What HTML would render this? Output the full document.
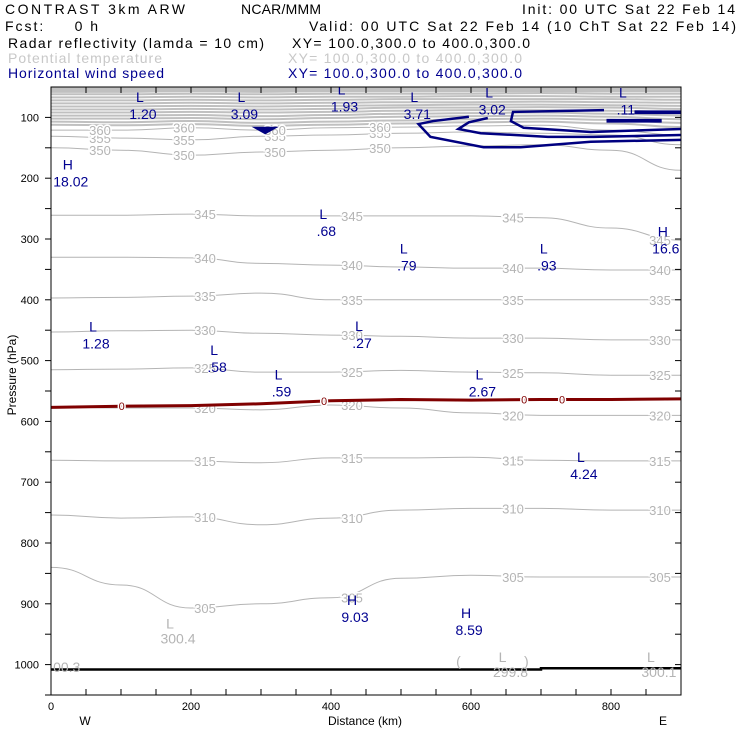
<!DOCTYPE html>
<html><head><meta charset="utf-8"><style>
html,body{margin:0;padding:0;background:#fff}
svg{display:block;font-family:"Liberation Sans",sans-serif}
.hd{font-size:14px;fill:#000}
.tk{font-size:11px;fill:#000}
.cl{font-size:13px;fill:#b4b4b4;stroke:#fff;stroke-width:3px;paint-order:stroke}
.bl{font-size:14px;fill:#000090}
.gl{font-size:14px;fill:#b4b4b4}
</style></head><body>
<svg id="chart" width="740" height="740" viewBox="0 0 740 740">
<g>
<text class="hd" x="5" y="14" textLength="180">CONTRAST  3km ARW</text>
<text class="hd" x="241" y="14" textLength="80">NCAR/MMM</text>
<text class="hd" x="522" y="14" textLength="213">Init: 00 UTC Sat 22 Feb 14</text>
<text class="hd" x="5" y="31" textLength="93" xml:space="preserve">Fcst:     0 h</text>
<text class="hd" x="309" y="31" textLength="427">Valid: 00 UTC Sat 22 Feb 14 (10 ChT Sat 22 Feb 14)</text>
<text class="hd" x="8" y="48" textLength="256">Radar reflectivity (lamda = 10 cm)</text>
<text class="hd" x="292" y="48" textLength="238">XY= 100.0,300.0 to 400.0,300.0</text>
<text class="hd" x="8" y="63" textLength="154" style="fill:#c8c8c8">Potential temperature</text>
<text class="hd" x="288" y="63" textLength="234" style="fill:#c8c8c8">XY= 100.0,300.0 to 400.0,300.0</text>
<text class="hd" x="8" y="78" textLength="156" style="fill:#000090">Horizontal wind speed</text>
<text class="hd" x="288" y="78" textLength="234" style="fill:#000090">XY= 100.0,300.0 to 400.0,300.0</text>
</g>
<defs><clipPath id="plotclip"><rect x="51" y="87" width="630" height="608"/></clipPath></defs>
<g id="theta" clip-path="url(#plotclip)"></g>
<g id="wind" clip-path="url(#plotclip)"></g>
<g id="refl" clip-path="url(#plotclip)"></g>
<g id="labels" clip-path="url(#plotclip)"></g>
<g id="axes"></g>
</svg>
<script>
const kmTicks=[0,200,400,600,800];
const pTicks=[100,200,300,400,500,600,700,800,900,1000];
const gridKm=[0,100,200,300,400,500,600,700,800,900];
const thetaLevels=[305,310,315,320,325,330,335,340,345,350,355,360];
const th305=[840,869,907,900,890,858,853,856,856,856];
const th310=[754,759,757,770,759,746,743,743,746,746];
const th315=[664,665,665,668,660,660,659,664,665,665];
const th320=[576,578,578,581,573,578,586,590,590,590];
const th325=[515,514,512,519,519,516,519,520,524,524];
const th330=[453,451,450,455,458,460,463,463,466,466];
const th335=[397,396,394,389,400,400,400,400,400,400];
const th340=[330,330,331,340,343,346,348,348,351,351];
const th345=[261,261,259,262,262,262,262,265,282,302];
const th350=[150,154,162,157,154,150,147,145,154,187];
const th355=[131,134,137,131,129,126,124,126,129,145];
const th360=[121,121,117,121,117,116,114,113,121,129];
const thetaSeries=[th305,th310,th315,th320,th325,th330,th335,th340,th345,th350,th355,th360];
const upperTheta=[
[112,113,111,114,112,110,108,107,110,116],[107,108,106,109,107,105,103,102,104,109],
[102,102,101,103,101,99,98,97,99,103],[97,97,96,98,96,94,93,92,94,97],
[92,92,91,92,91,89,88,88,89,91],[87,87,86,87,86,84,84,83,84,86],
[82,82,81,82,81,80,79,79,80,81],[77,77,76,77,76,75,75,74,75,76],
[72,72,71,72,71,70,70,70,70,71],[67,67,66,67,66,66,65,65,66,66],
[62,62,61,62,61,61,61,60,61,61],[58,58,57,58,57,57,57,57,57,57],[54,54,54,54,54,54,54,54,54,54]];
const windOuter=[[597,99],[546,106],[525,111],[542,132],[618,149],[671,149],[771,140],[900,137]];
const windB=[[624,101],[597,108],[582,119],[614,126],[710,132],[775,132],[900,129]];
const windC=[[790,88],[660,91],[657,106],[675,117],[771,124],[900,119]];
const windD=[[835,90],[900,90],[900,93],[835,93]];
const windE=[[795,104],[871,104],[871,107],[795,107]];
const windF=[[292,117],[320,117],[306,126]];
const reflKm=[0,100,200,300,400,500,600,700,800,900];
const reflP=[577,575,574,571,566,564,565,564,564,563];
const reflZeroKm=[101,390,676,730];
const surfKm=[0,700,700,900];
const surfP=[1008,1008,1006,1006];
const extremaText=['L','L','L','L','L','L','H','L','L','L','H','L','L','L','L','L','L','H','H'];
const extremaVal=['1.20','3.09','1.93','3.71','3.02','.11','18.02','.68','.79','.93','16.6','1.28','.27','.58','.59','2.67','4.24','9.03','8.59'];
const extremaKm=[127,272,415,519,626,817,24,389,504,704,874,60,440,233,325,612,757,430,593];
const extremaP=[75,75,62,75,67,67,186,267,324,324,296,452,451,491,531,531,667,902,923];
const thetaExText=['L','L','L','L','','(',')'];
const thetaExVal=['300.4','','299.8','300.1','00.3','',''];
const thetaExKm=[170,0,645,857,3,582,679];
const thetaExP=[941,0,996,996,1012,1002,1002];
const X=km=>51+km*0.7, Y=p=>87+(p-50)*0.608;
const NS='http://www.w3.org/2000/svg';
function mk(t,a,par){const e=document.createElementNS(NS,t);for(const k in a)e.setAttribute(k,a[k]);par.appendChild(e);return e;}
function smooth(pts){let d='M'+pts[0][0]+','+pts[0][1];for(let i=1;i<pts.length;i++){const p0=pts[i-1],p1=pts[i];const mx=(p0[0]+p1[0])/2;d+=' C'+mx+','+p0[1]+' '+mx+','+p1[1]+' '+p1[0]+','+p1[1];}return d;}
const gT=document.getElementById('theta');
mk('rect',{x:51,y:87,width:630,height:5,fill:'#c0c0c0'},gT);
upperTheta.forEach(arr=>{const e=mk('path',{d:smooth(gridKm.map((k,i)=>[X(k),Y(arr[i])])),fill:'none',stroke:'#c0c0c0','stroke-width':2},gT);

});
thetaSeries.forEach((arr,j)=>{const e=mk('path',{d:smooth(gridKm.map((k,i)=>[X(k),Y(arr[i])])),fill:'none',stroke:'#b4b4b4','stroke-width':1},gT);


const labKm=j>=9?[70,190,320,470]:[220,430,660,870];
labKm.forEach(k=>{const i=Math.min(9,Math.round(k/100));const t=mk('text',{class:'cl',x:X(k),y:Y(arr[i])+5,'text-anchor':'middle'},gT);t.textContent=thetaLevels[j];

});});
const gW=document.getElementById('wind');
[windOuter,windB,windC].forEach(c=>{const e=mk('polyline',{points:c.map(p=>X(p[0])+','+Y(p[1])).join(' '),fill:'none',stroke:'#000080','stroke-width':2.5},gW);

});
[windD,windE,windF].forEach(c=>{const e=mk('polygon',{points:c.map(p=>X(p[0])+','+Y(p[1])).join(' '),fill:'#000080',stroke:'#000080','stroke-width':2},gW);

});
const gR=document.getElementById('refl');
let e=mk('polyline',{points:reflKm.map((k,i)=>X(k)+','+Y(reflP[i])).join(' '),fill:'none',stroke:'#800000','stroke-width':3},gR);


reflZeroKm.forEach(k=>{const i=Math.floor(k/100),f=k/100-i;const p=reflP[i]+(reflP[Math.min(9,i+1)]-reflP[i])*f;
const t=mk('text',{x:X(k),y:Y(p)+4,'text-anchor':'middle','font-size':11,fill:'#800000',stroke:'#fff','stroke-width':3,'paint-order':'stroke'},gR);t.textContent='0';

});
e=mk('polyline',{points:surfKm.map((k,i)=>X(k)+','+Y(surfP[i])).join(' '),fill:'none',stroke:'#000','stroke-width':2.5},gR);


const gL=document.getElementById('labels');
extremaText.forEach((s,i)=>{const x=X(extremaKm[i]),y=Y(extremaP[i]);
const a=mk('text',{class:'bl',x:x,y:y,'text-anchor':'middle'},gL);a.textContent=s;


const b=mk('text',{class:'bl',x:x+3,y:y+17,'text-anchor':'middle'},gL);b.textContent=extremaVal[i];

});
thetaExText.forEach((s,i)=>{if(!thetaExKm[i]&&!thetaExP[i])return;const x=X(thetaExKm[i]),y=Y(thetaExP[i]);
const a=mk('text',{class:'gl',x:x,y:y,'text-anchor':'middle'},gL);a.textContent=s;


if(thetaExVal[i]&&s){const b=mk('text',{class:'gl',x:x+8,y:y+15,'text-anchor':'middle'},gL);b.textContent=thetaExVal[i];

}
else if(thetaExVal[i]){a.textContent=thetaExVal[i];a.setAttribute('text-anchor','start');}});
const gA=document.getElementById('axes');
e=mk('rect',{x:51,y:87,width:630,height:608,fill:'none',stroke:'#000','stroke-width':1},gA);


for(let k=0;k<=900;k+=50){mk('line',{x1:X(k),x2:X(k),y1:87,y2:93,stroke:'#000'},gA);mk('line',{x1:X(k),x2:X(k),y1:695,y2:689,stroke:'#000'},gA);}
for(let p=100;p<=1050;p+=50){mk('line',{x1:45,x2:51,y1:Y(p),y2:Y(p),stroke:'#000'},gA);mk('line',{x1:675,x2:681,y1:Y(p),y2:Y(p),stroke:'#000'},gA);}
kmTicks.forEach(k=>{const t=mk('text',{class:'tk',x:X(k),y:710,'text-anchor':'middle'},gA);t.textContent=k;

});
pTicks.forEach(p=>{const t=mk('text',{class:'tk',x:39,y:Y(p)+4,'text-anchor':'end'},gA);t.textContent=p;

});
</script>
<svg style="position:absolute;left:0;top:0" width="740" height="740">
<text x="365" y="725" text-anchor="middle" font-size="12" font-family="Liberation Sans">Distance (km)</text>
<text x="85" y="725" text-anchor="middle" font-size="12" font-family="Liberation Sans">W</text>
<text x="663" y="725" text-anchor="middle" font-size="12" font-family="Liberation Sans">E</text>
<text x="16" y="375" text-anchor="middle" font-size="12" font-family="Liberation Sans" transform="rotate(-90 16 375)">Pressure (hPa)</text>
</svg>
</body></html>
